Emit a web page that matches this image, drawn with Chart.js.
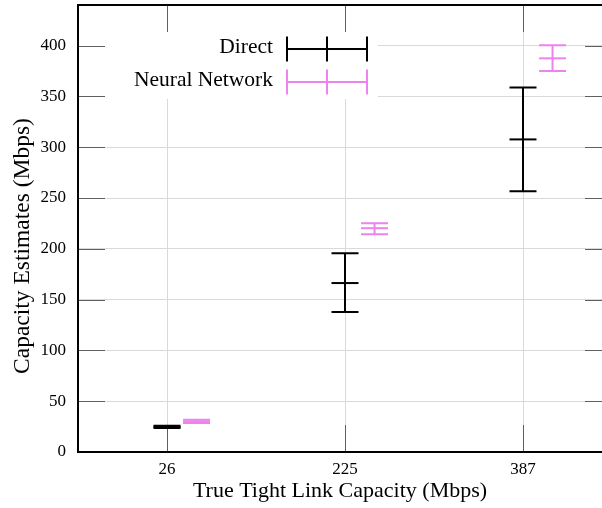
<!DOCTYPE html>
<html><head><meta charset="utf-8">
<script src="https://cdn.jsdelivr.net/npm/chart.js@4"></script>
<style>html,body{margin:0;padding:0;overflow:hidden;background:#fff}#wrap{width:602px;height:508px;position:relative}</style>
</head><body><div id="wrap"><canvas id="c"></canvas></div>
<script>
const categories = ['26', '225', '387'];
const yTickValues = [0, 50, 100, 150, 200, 250, 300, 350, 400];
const directMean = [24.7, 166.3, 307.7];
const directLow  = [23.6, 137.8, 256.6];
const directHigh = [25.8, 195.7, 358.7];
const nnMean = [30.1, 220.3, 387.5];
const nnLow  = [28.5, 214.4, 375.1];
const nnHigh = [31.7, 225.2, 400.3];
const seriesNames = ['Direct', 'Neural Network'];
const seriesColors = ['#000000', '#ee82ee'];
const seriesShift = [0, 0.166];
const xTitle = 'True Tight Link Capacity (Mbps)';
const yTitle = 'Capacity Estimates (Mbps)';

const SERIF = '"Liberation Serif", "Times New Roman", serif';
const CAP = 13.5;
const TICK = 27;
const X_FULL_MAX = 3.5;   // the plot frame continues past the right edge of the picture

function makeDataset(k, mean, low, high) {
  return {
    type: 'scatter',
    label: seriesNames[k],
    data: categories.map((c, i) => ({ x: i + 1 + seriesShift[k], y: mean[i] })),
    errLow: low, errHigh: high,
    pointStyle: 'line', pointRadius: CAP, pointHoverRadius: CAP,
    pointBorderWidth: 2, pointHoverBorderWidth: 2,
    borderColor: seriesColors[k], backgroundColor: seriesColors[k],
    showLine: false, clip: false
  };
}

function noPad(s) { s.paddingTop = 0; s.paddingBottom = 0; s.paddingLeft = 0; s.paddingRight = 0; }

const framePlugin = {
  id: 'frame',
  beforeDatasetsDraw(chart) {
    const { ctx, chartArea: a, scales } = chart;
    const xr = scales.x.getPixelForValue(X_FULL_MAX);
    ctx.save();
    ctx.fillStyle = '#ffffff';
    ctx.fillRect(a.left + 1, 29, 378 - a.left - 1, 70);
    ctx.strokeStyle = '#606060';
    ctx.lineWidth = 1;
    ctx.beginPath();
    yTickValues.forEach(v => {
      const y = Math.round(scales.y.getPixelForValue(v)) + 0.5;
      ctx.moveTo(a.left, y); ctx.lineTo(a.left + TICK, y);
      ctx.moveTo(xr, y); ctx.lineTo(xr - TICK, y);
    });
    categories.forEach((c, i) => {
      const x = Math.round(scales.x.getPixelForValue(i + 1)) + 0.5;
      ctx.moveTo(x, a.bottom); ctx.lineTo(x, a.bottom - TICK);
      ctx.moveTo(x, a.top); ctx.lineTo(x, a.top + TICK);
    });
    ctx.stroke();
    ctx.strokeStyle = '#000';
    ctx.lineWidth = 2;
    ctx.strokeRect(a.left, a.top, xr - a.left, a.bottom - a.top);
    ctx.restore();
  },
  afterDatasetsDraw(chart) {
    const { ctx, scales } = chart;
    ctx.save();
    ctx.lineWidth = 2;
    ctx.lineCap = 'butt';
    chart.data.datasets.forEach((ds, k) => {
      ctx.strokeStyle = seriesColors[k];
      ctx.beginPath();
      ds.data.forEach((p, i) => {
        const x = scales.x.getPixelForValue(p.x);
        const yl = scales.y.getPixelForValue(ds.errLow[i]);
        const yh = scales.y.getPixelForValue(ds.errHigh[i]);
        ctx.moveTo(x, yl); ctx.lineTo(x, yh);
        ctx.moveTo(x - CAP, yl); ctx.lineTo(x + CAP, yl);
        ctx.moveTo(x - CAP, yh); ctx.lineTo(x + CAP, yh);
      });
      ctx.stroke();
    });
    const rows = [49, 82];
    ctx.font = '21.5px ' + SERIF;
    ctx.textAlign = 'right';
    ctx.textBaseline = 'middle';
    seriesNames.forEach((name, k) => {
      const y = rows[k];
      ctx.fillStyle = '#000';
      ctx.fillText(name, 273, y - 1.5);
      ctx.strokeStyle = seriesColors[k];
      ctx.beginPath();
      ctx.moveTo(287, y); ctx.lineTo(367, y);
      ctx.moveTo(287, y - 12.5); ctx.lineTo(287, y + 12.5);
      ctx.moveTo(367, y - 12.5); ctx.lineTo(367, y + 12.5);
      ctx.moveTo(327, y - 12.5); ctx.lineTo(327, y + 12.5);
      ctx.stroke();
    });
    ctx.translate(23, 246);
    ctx.rotate(-Math.PI / 2);
    ctx.textAlign = 'center';
    ctx.font = '23.5px ' + SERIF;
    ctx.fillStyle = '#000';
    ctx.fillText(yTitle, 0, 0);
    ctx.restore();
  }
};

new Chart(document.getElementById('c'), {
  type: 'scatter',
  data: {
    datasets: [
      makeDataset(0, directMean, directLow, directHigh),
      makeDataset(1, nnMean, nnLow, nnHigh)
    ]
  },
  options: {
    responsive: true,
    maintainAspectRatio: false,
    animation: false,
    layout: { autoPadding: false, padding: { top: 5, right: 0, left: 0, bottom: 0 } },
    plugins: { legend: { display: false }, tooltip: { enabled: false } },
    scales: {
      x: {
        type: 'linear', min: 0.5, max: 0.5 + (602 - 78) * (X_FULL_MAX - 0.5) / (612 - 78),
        afterBuildTicks: s => { s.ticks = categories.map((c, i) => ({ value: i + 1 })); },
        afterFit: s => { s.height = 56; noPad(s); },
        ticks: {
          callback: (v, i) => categories[i],
          font: { family: SERIF, size: 17 }, color: '#000', padding: 7, maxRotation: 0
        },
        grid: { color: '#d9d9d9', lineWidth: 1, drawTicks: false },
        border: { display: false },
        title: {
          display: true, text: xTitle,
          font: { family: SERIF, size: 22 }, color: '#000', padding: { top: 0, bottom: 3.8 }
        }
      },
      y: {
        type: 'linear', min: 0, max: 440,
        afterBuildTicks: s => { s.ticks = yTickValues.map(v => ({ value: v })); },
        afterFit: s => { s.width = 78; noPad(s); },
        ticks: { font: { family: SERIF, size: 17 }, color: '#000', padding: 12 },
        grid: { color: '#d9d9d9', lineWidth: 1, drawTicks: false },
        border: { display: false },
        title: { display: false, text: yTitle }
      }
    }
  },
  plugins: [framePlugin]
});
</script>
</body></html>
